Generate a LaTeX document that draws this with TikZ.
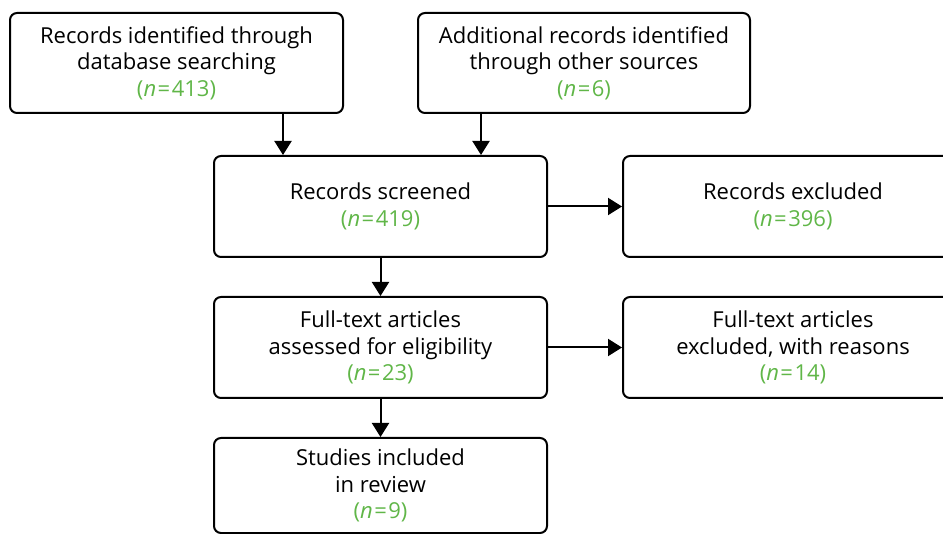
\documentclass[tikz,border=0pt]{standalone}
\usepackage{fontspec}
\setmainfont{Open Sans}
\usetikzlibrary{arrows.meta}
\definecolor{ngreen}{RGB}{96,182,72}
\tikzset{
    %arrow tip used for all connectors
    >={Triangle[length=14pt,width=17pt]},
    box/.style={draw, line width=2pt, rounded corners=7pt, align=center,
        inner sep=0pt, font=\fontsize{22}{26.5}\selectfont},
    link/.style={->, line width=2pt}
}
\newcommand{\nval}[1]{\textcolor{ngreen}{(\textit{n}\kern1.5pt=\kern1.5pt#1)}}

\begin{document}
\begin{tikzpicture}[x=1pt,y=-1pt]
    \clip (0,0) rectangle (943,534);
    \node[box, minimum width=333pt, minimum height=100pt] (dbsearch) at (176.5,63)
        {Records identified through\\database searching\\\nval{413}};
    \node[box, minimum width=332pt, minimum height=100pt] (other) at (584,63)
        {Additional records identified\\through other sources\\\nval{6}};
    \node[box, minimum width=333pt, minimum height=101pt] (screened) at (380.5,206.5)
        {Records screened\\\nval{419}};
    \node[box, minimum width=340pt, minimum height=101pt] (excluded) at (793,206.5)
        {Records excluded\\\nval{396}};
    \node[box, minimum width=333pt, minimum height=101pt] (fulltext) at (380.5,347.5)
        {Full-text articles\\assessed for eligibility\\\nval{23}};
    \node[box, minimum width=340pt, minimum height=101pt] (ftexcl) at (793,347.5)
        {Full-text articles\\excluded, with reasons\\\nval{14}};
    \node[box, minimum width=333pt, minimum height=95pt] (included) at (380.5,485.5)
        {Studies included\\in review\\\nval{9}};
    % connectors
    \draw[link] ([xshift=106.5pt]dbsearch.south) -- ([xshift=106.5pt]dbsearch.south |- screened.north);
    \draw[link] ([xshift=-103pt]other.south) -- ([xshift=-103pt]other.south |- screened.north);
    \draw[link] (screened.east) -- (excluded.west);
    \draw[link] (screened.south) -- (fulltext.north);
    \draw[link] (fulltext.east) -- (ftexcl.west);
    \draw[link] (fulltext.south) -- (included.north);
\end{tikzpicture}
\end{document}
